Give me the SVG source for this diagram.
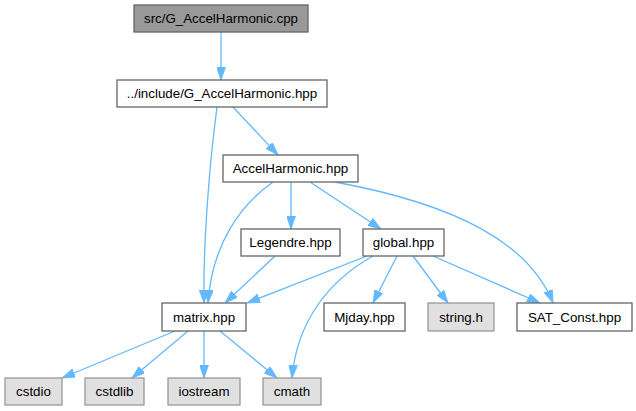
<svg xmlns="http://www.w3.org/2000/svg" width="636" height="411" viewBox="0 0 636 411">
<style>
.n rect{fill:#ffffff;stroke:#666666;stroke-width:1.3}
.n.main rect{fill:#999999}
.n.sys rect{fill:#e0e0e0;stroke:#999999}
.n text{font-family:"Liberation Sans",Arial,sans-serif;font-size:13.33px;fill:#000000;text-anchor:middle}
#edges path{fill:none;stroke:#63b8ff;stroke-width:1.3;marker-end:url(#ah)}
</style>
<defs>
<marker id="ah" viewBox="0 0 13 9" refX="13" refY="4.5" markerWidth="13" markerHeight="9" markerUnits="userSpaceOnUse" orient="auto">
<path d="M0,0 L13,4.5 L0,9 Z" fill="#63b8ff" stroke="#63b8ff" stroke-width="0.8"/>
</marker>
</defs>
<rect width="636" height="411" fill="#ffffff"/>
<g id="edges">
<path d="M221,32 L221,80"/>
<path d="M217,107 C210,160 203,240 204,303"/>
<path d="M233,107 L278,155"/>
<path d="M273,182 C240,205 212,245 208,303"/>
<path d="M291,182 L291,229"/>
<path d="M310,182 L381,229"/>
<path d="M335,182 C460,205 530,245 553,303"/>
<path d="M275,256 L225,303"/>
<path d="M367,256 L247,303"/>
<path d="M373,256 C330,280 297,320 292,378"/>
<path d="M397,256 L373,303"/>
<path d="M413,256 L448,303"/>
<path d="M433,256 L540,303"/>
<path d="M175,331 L62,378"/>
<path d="M188,331 L132,378"/>
<path d="M204,331 L204,378"/>
<path d="M220,331 L277,378"/>
</g>
<g id="node-src" class="n main"><rect x="134" y="5" width="174" height="27"/><text x="221" y="23.2">src/G_AccelHarmonic.cpp</text></g>
<g id="node-ghpp" class="n"><rect x="117" y="80" width="210" height="27"/><text x="222" y="98.2">../include/G_AccelHarmonic.hpp</text></g>
<g id="node-accel" class="n"><rect x="223" y="155" width="135" height="27"/><text x="290.5" y="173.2">AccelHarmonic.hpp</text></g>
<g id="node-legendre" class="n"><rect x="241" y="229" width="99" height="27"/><text x="290.5" y="247.2">Legendre.hpp</text></g>
<g id="node-global" class="n"><rect x="363" y="229" width="81" height="27"/><text x="403.5" y="247.2">global.hpp</text></g>
<g id="node-matrix" class="n"><rect x="162" y="303" width="84" height="28"/><text x="204" y="321.7">matrix.hpp</text></g>
<g id="node-mjday" class="n"><rect x="324" y="303" width="81" height="28"/><text x="364.5" y="321.7">Mjday.hpp</text></g>
<g id="node-string" class="n sys"><rect x="428" y="303" width="66" height="28"/><text x="461" y="321.7">string.h</text></g>
<g id="node-sat" class="n"><rect x="517" y="303" width="115" height="28"/><text x="574.5" y="321.7">SAT_Const.hpp</text></g>
<g id="node-cstdio" class="n sys"><rect x="5" y="378" width="57" height="27"/><text x="33.5" y="396.2">cstdio</text></g>
<g id="node-cstdlib" class="n sys"><rect x="85" y="378" width="59" height="27"/><text x="114.5" y="396.2">cstdlib</text></g>
<g id="node-iostream" class="n sys"><rect x="168" y="378" width="72" height="27"/><text x="204" y="396.2">iostream</text></g>
<g id="node-cmath" class="n sys"><rect x="263" y="378" width="58" height="27"/><text x="292" y="396.2">cmath</text></g>
</svg>
